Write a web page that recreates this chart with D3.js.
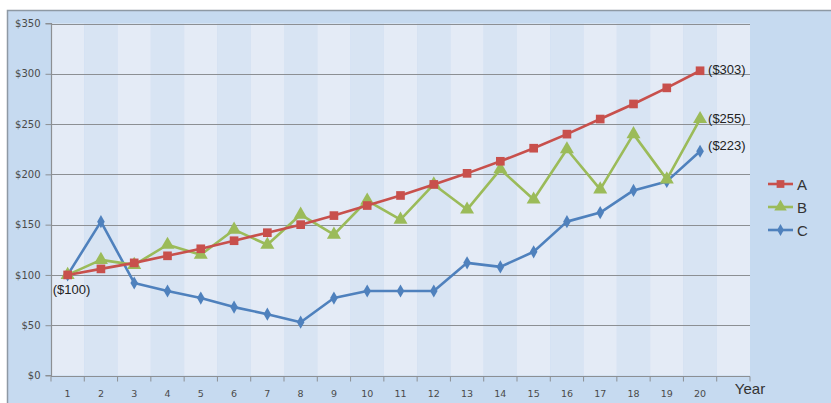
<!DOCTYPE html>
<html><head><meta charset="utf-8">
<script src="https://cdn.jsdelivr.net/npm/d3@7/dist/d3.min.js"></script>
<style>body{margin:0;background:#fff}svg{display:block}</style>
</head><body>
<svg id="c" width="831" height="403"></svg>
<script>
const years = [1,2,3,4,5,6,7,8,9,10,11,12,13,14,15,16,17,18,19,20];
const seriesA = [100,106,112,119,126,134,142,150,159,169,179,190,201,213,226,240,255,270,286,303];
const seriesB = [100,115,110,130,120,145,130,160,140,174,155,190,165,205,175,225,185,240,195,255];
const seriesC = [100,153,92,84,77,68,61,53,77,84,84,84,112,108,123,153,162,184,193,223];
const yTicks = [0,50,100,150,200,250,300,350];
const seriesNames = ["A","B","C"];
const colors = {A:"#c8504c", B:"#9bbb59", C:"#4f81bd"};

const svg = d3.select("#c");
const W = 831, H = 403;
const L = 51, R = 750, T = 23.5, B = 375.5;

// outer frame
svg.append("rect").attr("x",7.5).attr("y",10.5).attr("width",W).attr("height",H)
  .attr("fill","#c6daf0").attr("stroke","#8e99a4").attr("stroke-width",1.5);

const bands = years.concat([21]);
const x = d3.scaleBand().domain(bands).range([L,R]).padding(0);
const y = d3.scaleLinear().domain([0,350]).range([B,T]);
const cx = d => x(d) + x.bandwidth()/2;

// stripes
svg.append("g").selectAll("rect").data(bands).join("rect")
  .attr("x", d=>x(d)).attr("y",T).attr("width",x.bandwidth()).attr("height",B-T)
  .attr("fill",(d,i)=> i%2===0 ? "#e4ebf6" : "#d8e4f3");

// gridlines
svg.append("g").selectAll("line").data(yTicks).join("line")
  .attr("x1",L).attr("x2",R).attr("y1",d=>Math.round(y(d))+0.5).attr("y2",d=>Math.round(y(d))+0.5)
  .attr("stroke","#8c8f93").attr("stroke-width",1.2);

// y axis
const yAxis = d3.axisLeft(y).tickValues(yTicks).tickFormat(d=>"$"+d).tickSize(6).tickPadding(5);
const gy = svg.append("g").attr("transform",`translate(${L+0.5},0)`).call(yAxis);
gy.select(".domain").attr("stroke","#8c8f93").attr("d",`M-6,${T}H0V${B}H-6`).attr("stroke-width",1.2);
gy.selectAll(".tick line").attr("stroke","#8c8f93");
gy.selectAll(".tick text").attr("fill","#4a4a4a").style("font-family","DejaVu Sans").style("font-size","10px");

// x axis
const gx = svg.append("g").attr("transform",`translate(0,${Math.round(B)+0.5})`);
gx.append("line").attr("x1",L).attr("x2",R).attr("stroke","#8c8f93").attr("stroke-width",1.2);
gx.selectAll("line.t").data(bands.concat([22])).join("line").attr("class","t")
  .attr("x1",(d,i)=> L + i*x.bandwidth()).attr("x2",(d,i)=> L + i*x.bandwidth())
  .attr("y1",0).attr("y2",5).attr("stroke","#8c8f93");
gx.selectAll("text").data(years).join("text")
  .attr("x",d=>cx(d)).attr("y",20).attr("text-anchor","middle")
  .attr("fill","#4a4a4a").style("font-family","DejaVu Sans").style("font-size","9.5px").text(d=>d);
svg.append("text").attr("x",750).attr("y",394).attr("text-anchor","middle")
  .attr("fill","#333").style("font-family","Liberation Sans, Arial").style("font-size","15px").text("Year");

// lines
const data = {A:seriesA, B:seriesB, C:seriesC};
const line = d3.line().x((d,i)=>cx(years[i])).y(d=>y(d));
const sym = {A:d3.symbolSquare, B:d3.symbolTriangle, C:d3.symbolDiamond};
const symSize = {A:75, B:85, C:50};
["C","B","A"].forEach(k=>{
  svg.append("path").datum(data[k]).attr("d",line).attr("fill","none")
    .attr("stroke",colors[k]).attr("stroke-width",2.6).attr("stroke-linejoin","round");
  svg.append("g").selectAll("path").data(data[k]).join("path")
    .attr("transform",(d,i)=>`translate(${cx(years[i])},${y(d)})`)
    .attr("d",d3.symbol().type(sym[k]).size(symSize[k])).attr("fill",colors[k]);
});

// data labels
const lab = (t,xx,yy,anchor)=>svg.append("text").attr("x",xx).attr("y",yy).attr("text-anchor",anchor||"start")
  .attr("fill","#222").style("font-family","Liberation Sans, Arial").style("font-size","13px").text(t);
lab("($"+seriesA[0]+")", cx(1)-15, y(seriesA[0])+19);
lab("($"+seriesA[19]+")", cx(20)+8, y(seriesA[19])+3);
lab("($"+seriesB[19]+")", cx(20)+8, y(seriesB[19])+4);
lab("($"+seriesC[19]+")", cx(20)+8, y(seriesC[19])-1);

// legend
const lg = svg.append("g");
seriesNames.forEach((k,i)=>{
  const yy = 184 + i*23;
  lg.append("line").attr("x1",768).attr("x2",793).attr("y1",yy).attr("y2",yy).attr("stroke",colors[k]).attr("stroke-width",2.6);
  lg.append("path").attr("transform",`translate(780.5,${yy})`).attr("d",d3.symbol().type(sym[k]).size(symSize[k]*0.8)).attr("fill",colors[k]);
  lg.append("text").attr("x",797).attr("y",yy+5.5).attr("fill","#333")
    .style("font-family","Liberation Sans, Arial").style("font-size","15px").text(k);
});
</script>
</body></html>
